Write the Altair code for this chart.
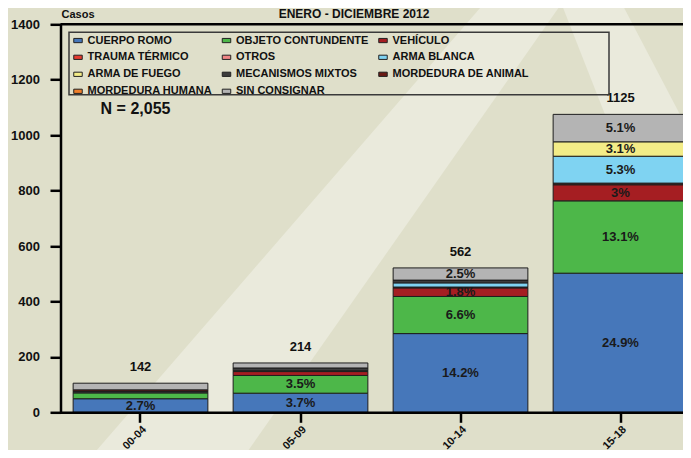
import altair as alt
import pandas as pd

# ---------------- data ----------------
groups = ["00-04", "05-09", "10-14", "15-18"]
categories = [
    "CUERPO ROMO", "OBJETO CONTUNDENTE", "VEHÍCULO",
    "TRAUMA TÉRMICO", "OTROS", "ARMA BLANCA",
    "ARMA DE FUEGO", "MECANISMOS MIXTOS", "MORDEDURA DE ANIMAL",
    "MORDEDURA HUMANA", "SIN CONSIGNAR",
]
colors = [
    "#4677BA", "#4DB749", "#A51E22",
    "#E63B2E", "#F08585", "#7FD3F2",
    "#F3EC87", "#3C3C3C", "#6B1A14",
    "#F07F2A", "#B4B4B4",
]

cuerpo_romo = [49, 69, 284, 502]
objeto_contundente = [21, 64, 134, 261]
vehiculo = [0, 14, 31, 58]
trauma_termico = [0, 0, 2, 3]
otros = [0, 0, 1, 3]
arma_blanca = [0, 3, 15, 97]
arma_de_fuego = [0, 0, 0, 52]
mecanismos_mixtos = [5, 10, 10, 0]
mordedura_animal = [6, 0, 0, 0]
mordedura_humana = [0, 0, 0, 0]
sin_consignar = [24, 18, 44, 99]

pct_cuerpo_romo = ["2.7%", "3.7%", "14.2%", "24.9%"]
pct_objeto_contundente = ["", "3.5%", "6.6%", "13.1%"]
pct_vehiculo = ["", "", "1.8%", "3%"]
pct_arma_blanca = ["", "", "", "5.3%"]
pct_arma_de_fuego = ["", "", "", "3.1%"]
pct_sin_consignar = ["", "", "2.5%", "5.1%"]

total_labels = ["142", "214", "562", "1125"]
n_label = "N = 2,055"
title_text = "ENERO - DICIEMBRE 2012"

# background watermark (page pixel coordinates of the light "A" legs)
wm_leg = ["izq", "izq", "der", "der"]
wm_py = [0, 458, 0, 458]
wm_x1 = [487, 90, 560, 740]
wm_x2 = [564, 243, 620, 860]

series = [cuerpo_romo, objeto_contundente, vehiculo, trauma_termico, otros,
          arma_blanca, arma_de_fuego, mecanismos_mixtos, mordedura_animal,
          mordedura_humana, sin_consignar]
pcts = {0: pct_cuerpo_romo, 1: pct_objeto_contundente, 2: pct_vehiculo,
        5: pct_arma_blanca, 6: pct_arma_de_fuego, 10: pct_sin_consignar}

rows, lab_rows, tot_rows = [], [], []
for gi, g in enumerate(groups):
    cum = 0
    for ci, c in enumerate(categories):
        v = series[ci][gi]
        if v > 0:
            rows.append({"grupo": g, "categoria": c, "valor": v, "orden": ci})
            lab = pcts.get(ci, [""] * 4)[gi]
            if lab:
                lab_rows.append({"grupo": g, "mid": cum + v / 2, "lab": lab})
        cum += v
    tot_rows.append({"grupo": g, "total": cum, "lab": total_labels[gi]})

df = pd.DataFrame(rows)
df_lab = pd.DataFrame(lab_rows)
df_tot = pd.DataFrame(tot_rows)
df_wm = pd.DataFrame({"leg": wm_leg, "py": wm_py, "x1": wm_x1, "x2": wm_x2})

FONT = "Liberation Sans"
BG = "#DFDFCA"
LIGHT = "#EAEADC"

xscale = alt.Scale(domain=groups, range=[0, 640], paddingInner=0.158, paddingOuter=0.079)
yscale = alt.Scale(domain=[0, 1400], nice=False)

x_axis = alt.Axis(title=None, labelAngle=-45, labelAlign="right", labelBaseline="top",
                  labelFontSize=11, labelFontWeight="bold", labelFont=FONT, labelColor="#111",
                  tickSize=10, tickWidth=2.5, tickColor="black", domainWidth=2.5,
                  domainColor="black", labelPadding=1, zindex=1)
y_axis = alt.Axis(title="Casos", titleAngle=0, titleAlign="left", titleBaseline="middle",
                  titleX=0.5, titleY=-10, titleFontSize=11, titleFontWeight="bold",
                  titleFont=FONT, titleColor="#111", format="d",
                  values=list(range(0, 1401, 200)), labelFontSize=13, labelFontWeight="bold",
                  labelFont=FONT, labelColor="#111", labelPadding=10.5, tickSize=10.5,
                  tickWidth=2.5, tickColor="black", domainWidth=2.5, domainColor="black",
                  grid=False, zindex=1)

bars = alt.Chart(df).mark_bar(stroke="#1e1e1e", strokeWidth=1, opacity=1).encode(
    x=alt.X("grupo:N", sort=groups, scale=xscale, axis=x_axis),
    y=alt.Y("valor:Q", stack="zero", scale=yscale, axis=y_axis),
    color=alt.Color("categoria:N", scale=alt.Scale(domain=categories, range=colors),
                    legend=alt.Legend(title=None, orient="none", legendX=12, legendY=10.5,
                                      columns=3, direction="horizontal",
                                      symbolType="M-1,-0.5H1V0.5H-1Z", symbolSize=72,
                                      symbolStrokeColor="#222", symbolStrokeWidth=1,
                                      symbolOpacity=1,
                                      labelFontSize=11, labelFontWeight="bold", labelFont=FONT,
                                      labelColor="#111", labelOffset=4, rowPadding=5,
                                      columnPadding=7.5, padding=0, labelLimit=300)),
    order=alt.Order("orden:Q", sort="ascending"),
)

pct_text = alt.Chart(df_lab).mark_text(font=FONT, fontSize=13, fontWeight="bold",
                                       color="#1a1a1a", baseline="middle").encode(
    x=alt.X("grupo:N", sort=groups, scale=xscale),
    y=alt.Y("mid:Q", scale=yscale, stack=None),
    text="lab:N",
)

tot_text = alt.Chart(df_tot).mark_text(font=FONT, fontSize=13, fontWeight="bold",
                                       color="#111", baseline="middle", dy=-16).encode(
    x=alt.X("grupo:N", sort=groups, scale=xscale),
    y=alt.Y("total:Q", scale=yscale, stack=None),
    text="lab:N",
)

one = alt.Data(values=[{"k": 1}])
top_rule = alt.Chart(one).mark_rule(color="black", strokeWidth=2.5).encode(
    y=alt.datum(1400, scale=yscale))

legend_box = alt.Chart(one).mark_rect(fillOpacity=0, stroke="#3a3a3a", strokeWidth=1.5).encode(
    x=alt.value(8.5), x2=alt.value(548.5), y=alt.value(8), y2=alt.value(70.4))

n_text = alt.Chart(one).mark_text(text=n_label, font=FONT, fontSize=16, fontWeight="bold",
                                  color="#111", align="center", baseline="middle").encode(
    x=alt.value(75), y=alt.value(84.7))

t_text = alt.Chart(one).mark_text(text=title_text, font=FONT, fontSize=12, fontWeight="bold",
                                  color="#111", align="center", baseline="alphabetic").encode(
    x=alt.value(293.5), y=alt.value(-6.5))

bg = alt.Chart(df_wm).mark_area(orient="horizontal", color=LIGHT, opacity=1).encode(
    y=alt.Y("py:Q", scale=alt.Scale(domain=[0, 458], range=[-24.3, 433.7], nice=False, zero=False), axis=None),
    x=alt.X("x1:Q", scale=alt.Scale(domain=[0, 691], range=[-60.5, 630.5], nice=False, zero=False), axis=None),
    x2="x2:Q",
    detail="leg:N",
)

main = alt.layer(bars, pct_text, tot_text, top_rule, legend_box, n_text, t_text)

chart = alt.layer(bg, main).resolve_scale(x="independent", y="independent").properties(
    width=622.5, height=388,
    autosize=alt.AutoSizeParams(type="none"),
    padding={"left": 52.5, "top": 16.3, "right": 0, "bottom": 37.7},
    background=BG,
).configure_view(strokeWidth=0, fill=None)

chart.save("out.html", embed_options={"renderer": "svg", "actions": False})
